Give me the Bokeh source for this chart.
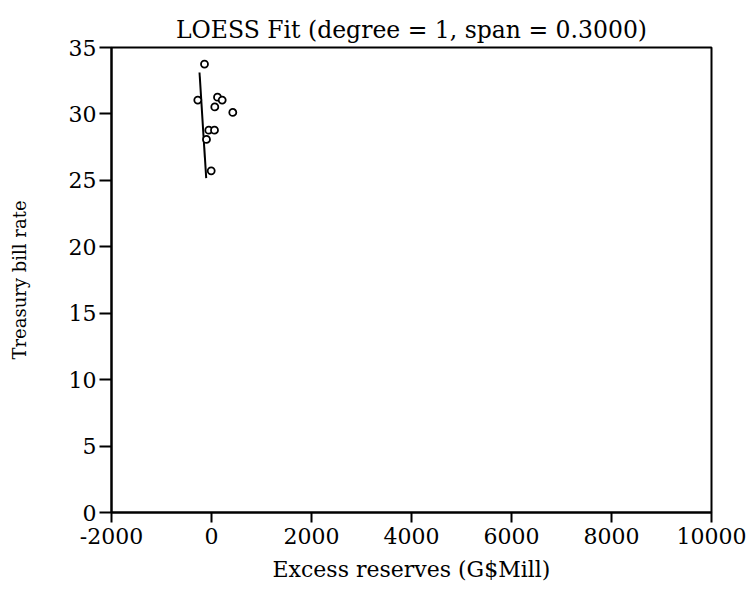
from bokeh.plotting import figure
from bokeh.models import FixedTicker, ColumnDataSource
from bokeh.embed import file_html
from bokeh.resources import INLINE

# data
excess_reserves = [-140, -274, 120, 214, 66, 426, -54, 60, -100, -6]
tbill_rate = [33.75, 31.04, 31.26, 31.04, 30.53, 30.11, 28.78, 28.78, 28.08, 25.72]
fit_x = [-240, -106]
fit_y = [33.12, 25.17]
x_ticks = [-2000, 0, 2000, 4000, 6000, 8000, 10000]
x_tick_labels = ["-2000", "0", "2000", "4000", "6000", "8000", "10000"]
y_ticks = [0, 5, 10, 15, 20, 25, 30, 35]
y_tick_labels = ["0", "5", "10", "15", "20", "25", "30", "35"]

FONT = "DejaVu Serif"

p = figure(width=748, height=590, output_backend="svg", toolbar_location=None,
           x_range=(-2000, 10000), y_range=(0, 35),
           title="LOESS Fit (degree = 1, span = 0.3000)",
           min_border_left=111, min_border_right=37,
           min_border_top=47, min_border_bottom=78)

p.title.align = "center"
p.title.text_font = FONT
p.title.text_font_size = "23.5px"
p.title.text_font_style = "normal"
p.title.text_color = "black"
p.title.standoff = 8

p.xgrid.visible = False
p.ygrid.visible = False
p.outline_line_color = "black"
p.outline_line_width = 2
p.outline_line_alpha = 1
p.background_fill_color = "white"
p.border_fill_color = "white"

p.xaxis.ticker = FixedTicker(ticks=x_ticks)
p.yaxis.ticker = FixedTicker(ticks=y_ticks)
p.xaxis.major_label_overrides = {t: l for t, l in zip(x_ticks, x_tick_labels)}
p.yaxis.major_label_overrides = {t: l for t, l in zip(y_ticks, y_tick_labels)}

for ax in (p.xaxis[0], p.yaxis[0]):
    ax.axis_line_color = "black"
    ax.axis_line_width = 2
    ax.major_tick_line_color = "black"
    ax.major_tick_line_width = 2
    ax.minor_tick_line_color = None
    ax.major_tick_in = 0
    ax.major_label_text_font = FONT
    ax.major_label_text_font_size = "22px"
    ax.major_label_text_color = "black"
    ax.axis_label_text_font = FONT
    ax.axis_label_text_font_style = "normal"
    ax.axis_label_text_color = "black"

p.xaxis.axis_label_text_font_size = "22px"
p.yaxis.axis_label_text_font_size = "18px"
p.xaxis.major_tick_out = 10
p.yaxis.major_tick_out = 12
p.xaxis.major_label_standoff = 5
p.yaxis.major_label_standoff = 3
p.xaxis.axis_label = "Excess reserves (G$Mill)"
p.yaxis.axis_label = "Treasury bill rate"
p.xaxis.axis_label_standoff = 10
p.yaxis.axis_label_standoff = 36

src = ColumnDataSource(dict(x=excess_reserves, y=tbill_rate))
p.line(fit_x, fit_y, line_color="black", line_width=2)
p.scatter("x", "y", source=src, marker="circle", size=7,
          fill_color="white", line_color="black", line_width=1.8)

open("out.html", "w").write(file_html(p, INLINE))
